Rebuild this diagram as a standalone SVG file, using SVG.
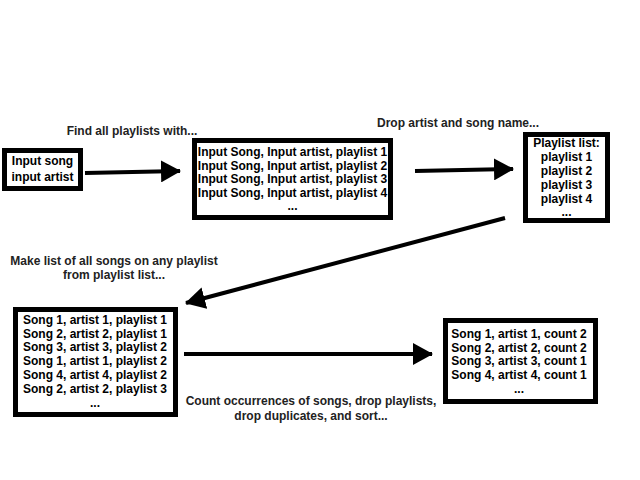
<svg xmlns="http://www.w3.org/2000/svg" width="640" height="480" viewBox="0 0 640 480">
<defs>
<style>
.box{fill:#fff;stroke:#000;stroke-width:5}
text{font-family:"Liberation Sans",Arial,Helvetica,sans-serif;font-weight:bold;font-size:12px;fill:#000;text-anchor:middle}
.lbl{fill:#222}
.edge{stroke:#000;stroke-width:4;fill:none}
</style>
<marker id="ah" viewBox="0 0 20 22" refX="19" refY="11" markerWidth="20" markerHeight="22" markerUnits="userSpaceOnUse" orient="auto">
<path d="M0,0 L20,11 L0,22 Z" fill="#000"/>
</marker>
</defs>
<rect width="640" height="480" fill="#fff"/>
<g id="connectors">
<line class="edge" x1="85" y1="173" x2="180" y2="171" marker-end="url(#ah)"/>
<line class="edge" x1="415" y1="171" x2="513" y2="169" marker-end="url(#ah)"/>
<line class="edge" x1="505" y1="218" x2="186" y2="303" marker-end="url(#ah)"/>
<line class="edge" x1="184" y1="354" x2="432" y2="354" marker-end="url(#ah)"/>
</g>
<g id="label1"><text class="lbl" x="132" y="135">Find all playlists with...</text></g>
<g id="label2"><text class="lbl" x="458" y="127">Drop artist and song name...</text></g>
<g id="label3"><text class="lbl" x="114" y="265">Make list of all songs on any playlist</text><text class="lbl" x="114" y="279">from playlist list...</text></g>
<g id="label4"><text class="lbl" x="311" y="405">Count occurrences of songs, drop playlists,</text><text class="lbl" x="311" y="420">drop duplicates, and sort...</text></g>
<g id="node1">
<rect class="box" x="4.5" y="150.5" width="76" height="38"/>
<text x="42.5" y="165">Input song</text>
<text x="42.5" y="181">input artist</text>
</g>
<g id="node2">
<rect class="box" x="194.5" y="140.5" width="196" height="77"/>
<text x="292.5" y="156">Input Song, Input artist, playlist 1</text>
<text x="292.5" y="169.5">Input Song, Input artist, playlist 2</text>
<text x="292.5" y="183">Input Song, Input artist, playlist 3</text>
<text x="292.5" y="196.5">Input Song, Input artist, playlist 4</text>
<text x="292.5" y="210">...</text>
</g>
<g id="node3">
<rect class="box" x="525.5" y="134.5" width="82" height="86"/>
<text x="566.5" y="147">Playlist list:</text>
<text x="566.5" y="161">playlist 1</text>
<text x="566.5" y="175">playlist 2</text>
<text x="566.5" y="189">playlist 3</text>
<text x="566.5" y="203">playlist 4</text>
<text x="566.5" y="216">...</text>
</g>
<g id="node4">
<rect class="box" x="15.5" y="309.5" width="160" height="105"/>
<text x="95" y="324">Song 1, artist 1, playlist 1</text>
<text x="95" y="337.5">Song 2, artist 2, playlist 1</text>
<text x="95" y="351">Song 3, artist 3, playlist 2</text>
<text x="95" y="365">Song 1, artist 1, playlist 2</text>
<text x="95" y="379">Song 4, artist 4, playlist 2</text>
<text x="95" y="392.5">Song 2, artist 2, playlist 3</text>
<text x="95" y="407">...</text>
</g>
<g id="node5">
<rect class="box" x="445.5" y="320.5" width="150" height="81"/>
<text x="519" y="338">Song 1, artist 1, count 2</text>
<text x="519" y="351.5">Song 2, artist 2, count 2</text>
<text x="519" y="365">Song 3, artist 3, count 1</text>
<text x="519" y="378.5">Song 4, artist 4, count 1</text>
<text x="519" y="393">...</text>
</g>
</svg>
